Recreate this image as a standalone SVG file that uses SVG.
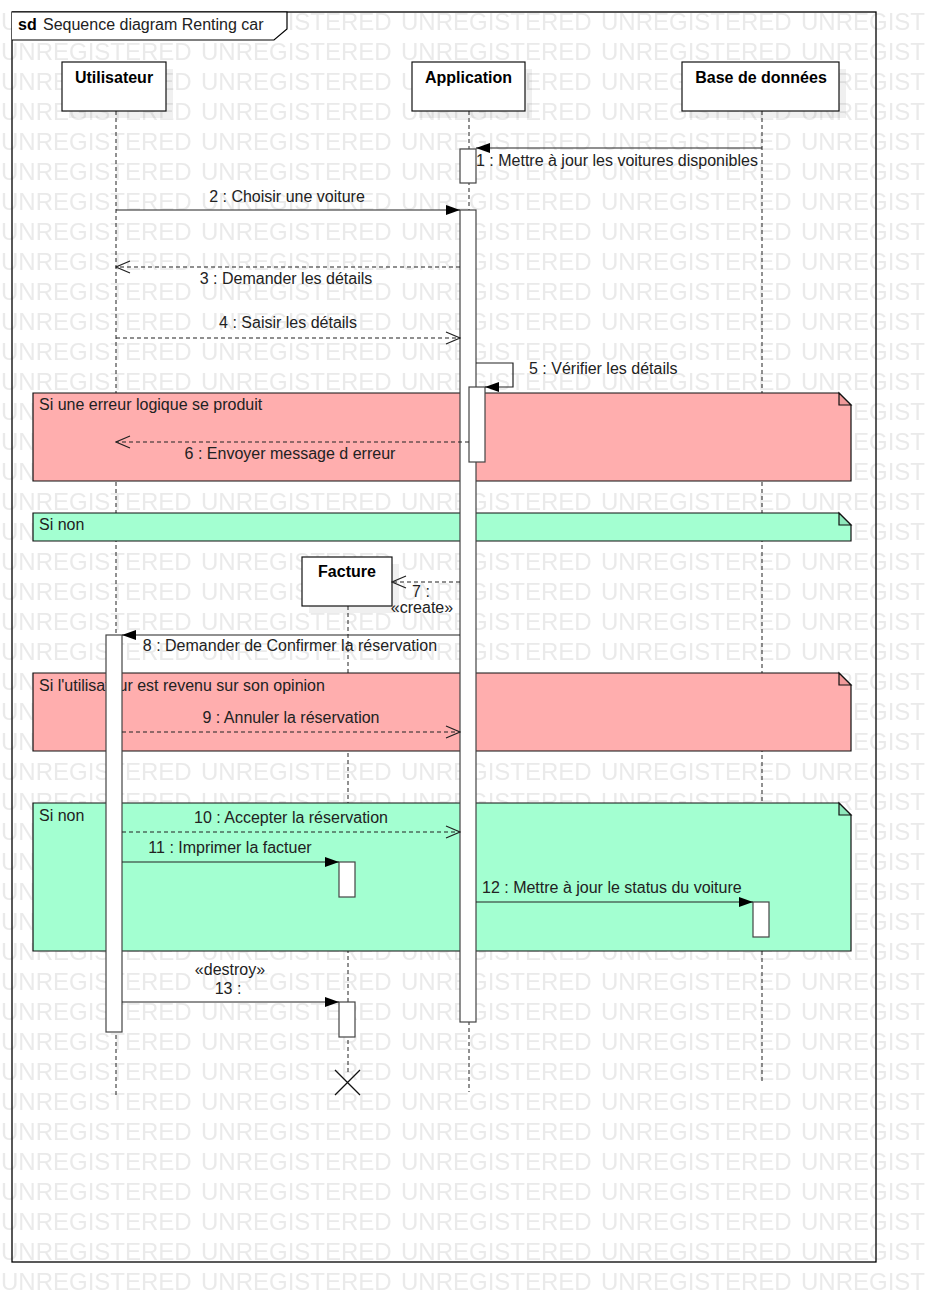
<svg xmlns="http://www.w3.org/2000/svg" width="926" height="1312" viewBox="0 0 926 1312">
<style>
text{font-family:"Liberation Sans",Arial,sans-serif;font-size:16px;fill:#222}
.b{font-weight:bold;fill:#000}
.m{text-anchor:middle}
.wm{font-size:24px;fill:#eaeaea}
.life{stroke:#222;stroke-width:1;stroke-dasharray:4 3;fill:none}
.box{fill:#fff;stroke:#111;stroke-width:1.2}
.sh{fill:#000;opacity:.06}
.act{fill:#fff;stroke:#444;stroke-width:1.2}
.sync{stroke:#222;stroke-width:1.2;fill:none;marker-end:url(#fa)}
.ret{stroke:#222;stroke-width:1.2;fill:none;stroke-dasharray:4 3;marker-end:url(#oa)}
.pink{fill:#ffaeae;stroke:#111;stroke-width:1.2}
.green{fill:#a3ffd1;stroke:#111;stroke-width:1.2}
</style>
<defs>
<marker id="fa" viewBox="0 0 14 10" refX="14" refY="5" markerWidth="14" markerHeight="10" markerUnits="userSpaceOnUse" orient="auto"><path d="M0,0 L14,5 L0,10 z" fill="#000"/></marker>
<marker id="oa" viewBox="0 0 16 14" refX="15" refY="7" markerWidth="16" markerHeight="14" markerUnits="userSpaceOnUse" orient="auto"><path d="M1,1 L15,7 L1,13" fill="none" stroke="#222" stroke-width="1.2"/></marker>
<pattern id="wmp" x="0" y="5" width="200" height="30" patternUnits="userSpaceOnUse"><text class="wm" x="1" y="25">UNREGISTERED</text></pattern>
</defs>
<rect width="926" height="1312" fill="#fff"/>
<rect width="926" height="1296" fill="url(#wmp)"/>

<g id="frame">
<rect x="12" y="12" width="864" height="1250" fill="none" stroke="#000" stroke-width="1.3"/>
<path d="M12,12 H287 V29 L274,40 H12" fill="#fff" stroke="#000" stroke-width="1.2"/>
<text x="18" y="30" class="b">sd</text>
<text x="43" y="30">Sequence diagram Renting car</text>
</g>

<g id="lifelines">
<line class="life" x1="116" y1="111" x2="116" y2="1098"/>
<line class="life" x1="469" y1="111" x2="469" y2="1092"/>
<line class="life" x1="762" y1="111" x2="762" y2="1083"/>
<line class="life" x1="348" y1="606" x2="348" y2="1072"/>
</g>

<g id="utilisateur">
<rect class="sh" x="69" y="69" width="104" height="49"/>
<rect class="box" x="62" y="62" width="104" height="49"/>
<text x="114" y="83" class="b m">Utilisateur</text>
</g>
<g id="application">
<rect class="sh" x="419" y="69" width="113" height="49"/>
<rect class="box" x="412" y="62" width="113" height="49"/>
<text x="468.5" y="83" class="b m">Application</text>
</g>
<g id="base">
<rect class="sh" x="689" y="69" width="157" height="49"/>
<rect class="box" x="682" y="62" width="157" height="49"/>
<text x="761" y="83" class="b m">Base de données</text>
</g>
<g id="facture">
<rect class="sh" x="309" y="564" width="90" height="49"/>
<rect class="box" x="302" y="557" width="90" height="49"/>
<text x="347" y="577" class="b m">Facture</text>
</g>

<g id="fragments">
<g id="alt1">
<path class="pink" d="M33,393 H839 L851,405 V481 H33 Z"/>
<path d="M839,393 V405 H851 Z" fill="#f09a9a" stroke="#111" stroke-width="1.2"/>
<text x="39" y="410">Si une erreur logique se produit</text>
</g>
<g id="else1">
<path class="green" d="M33,513 H839 L851,525 V541 H33 Z"/>
<path d="M839,513 V525 H851 Z" fill="#8fe8bc" stroke="#111" stroke-width="1.2"/>
<text x="39" y="530">Si non</text>
</g>
<g id="alt2">
<path class="pink" d="M33,673 H839 L851,685 V751 H33 Z"/>
<path d="M839,673 V685 H851 Z" fill="#f09a9a" stroke="#111" stroke-width="1.2"/>
<text x="39" y="691">Si l'utilisateur est revenu sur son opinion</text>
</g>
<g id="else2">
<path class="green" d="M33,803 H839 L851,815 V951 H33 Z"/>
<path d="M839,803 V815 H851 Z" fill="#8fe8bc" stroke="#111" stroke-width="1.2"/>
<text x="39" y="821">Si non</text>
</g>
</g>

<g id="activations">
<rect class="act" x="460" y="149" width="16" height="34"/>
<rect class="act" x="460" y="210" width="16" height="812"/>
<rect class="act" x="469" y="387" width="16" height="75"/>
<rect class="act" x="106" y="635" width="16" height="397"/>
<rect class="act" x="339" y="862" width="16" height="35"/>
<rect class="act" x="753" y="902" width="16" height="35"/>
<rect class="act" x="339" y="1002" width="16" height="35"/>
</g>

<g id="connectors">
<line class="sync" x1="762" y1="148" x2="476" y2="148"/>
<text x="476" y="166">1 : Mettre à jour les voitures disponibles</text>
<line class="sync" x1="116" y1="210" x2="460" y2="210"/>
<text x="287" y="202" class="m">2 : Choisir une voiture</text>
<line class="ret" x1="460" y1="267" x2="116" y2="267"/>
<text x="286" y="284" class="m">3 : Demander les détails</text>
<line class="ret" x1="116" y1="338" x2="460" y2="338"/>
<text x="288" y="328" class="m">4 : Saisir les détails</text>
<path class="sync" d="M476,363 H513 V387 H485"/>
<text x="529" y="374">5 : Vérifier les détails</text>
<line class="ret" x1="469" y1="442" x2="116" y2="442"/>
<text x="290" y="459" class="m">6 : Envoyer message d erreur</text>
<line class="ret" x1="460" y1="582" x2="392" y2="582"/>
<text x="421" y="597" class="m">7 :</text>
<text x="422" y="613" class="m">«create»</text>
<line class="sync" x1="460" y1="635" x2="122" y2="635"/>
<text x="290" y="651" class="m">8 : Demander de Confirmer la réservation</text>
<line class="ret" x1="122" y1="732" x2="460" y2="732"/>
<text x="291" y="723" class="m">9 : Annuler la réservation</text>
<line class="ret" x1="122" y1="832" x2="460" y2="832"/>
<text x="291" y="823" class="m">10 : Accepter la réservation</text>
<line class="sync" x1="122" y1="862" x2="339" y2="862"/>
<text x="230" y="853" class="m">11 : Imprimer la factuer</text>
<line class="sync" x1="476" y1="902" x2="753" y2="902"/>
<text x="482" y="893">12 : Mettre à jour le status du voiture</text>
<line class="sync" x1="122" y1="1002" x2="339" y2="1002"/>
<text x="230" y="975" class="m">«destroy»</text>
<text x="228" y="994" class="m">13 :</text>
</g>

<g id="destroy">
<path d="M335,1070 L360,1095 M360,1070 L335,1095" stroke="#111" stroke-width="1.3"/>
</g>
</svg>
